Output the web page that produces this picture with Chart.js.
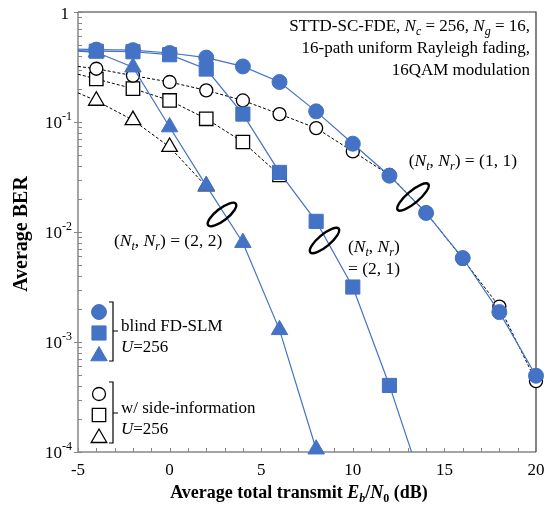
<!DOCTYPE html>
<html>
<head>
<meta charset="utf-8">
<script src="https://cdn.jsdelivr.net/npm/chart.js@4/dist/chart.umd.min.js"></script>
<style>
  html, body { margin: 0; padding: 0; background: #fff; }
  #chart { display: block; }
</style>
</head>
<body>
<canvas id="chart" width="554" height="506"></canvas>
<script>
/** Data (BER, x = average total transmit Eb/N0 in dB) **/

// blind FD-SLM, U=256 (filled blue markers, solid lines)
const blindCircleX = [-5, -4, -2, 0, 2, 4, 6, 8, 10, 12, 14, 16, 18, 20];
const blindCircleBer = [0.46, 0.455, 0.45, 0.424, 0.385, 0.32, 0.231, 0.125, 0.0635, 0.0325, 0.0149, 0.0058, 0.00187, 0.000494];
const blindSquareX = [-5, -4, -2, 0, 2, 4, 6, 8, 10, 12, 14];
const blindSquareBer = [0.445, 0.44, 0.435, 0.409, 0.303, 0.118, 0.0348, 0.0125, 0.00316, 0.000403, 0.00004];
const blindTriangleX = [-5, -4, -2, 0, 2, 4, 6, 8];
const blindTriangleBer = [0.44, 0.43, 0.315, 0.09, 0.0264, 0.008, 0.00129, 0.000106];

// w/ side-information, U=256 (open markers, dashed lines)
const sideCircleX = [-5, -4, -2, 0, 2, 4, 6, 8, 10, 12, 14, 16, 18, 20];
const sideCircleBer = [0.32, 0.305, 0.264, 0.231, 0.194, 0.157, 0.118, 0.088, 0.054, 0.033, 0.015, 0.0057, 0.0021, 0.00044];
const sideSquareX = [-5, -4, -2, 0, 2, 4, 6];
const sideSquareBer = [0.272, 0.246, 0.201, 0.157, 0.107, 0.0658, 0.033];
const sideTriangleX = [-5, -4, -2, 0, 2];
const sideTriangleBer = [0.184, 0.156, 0.104, 0.0593, 0.026];

// axis ticks
const xTickLabels = [-5, 0, 5, 10, 15, 20];
const yDecades = [0, -1, -2, -3, -4];

/** Styles **/
const blue = "#4472C4";
const SERIF = '"Liberation Serif", "Times New Roman", serif';

function pts(xs, ys) {
    return xs.map((x, i) => ({ x: x, y: ys[i] }));
}

// points sitting on the left edge only carry the line, no marker
function radiusOf(r) {
    return c => (c.raw && c.raw.x <= -5) ? 0 : r;
}

function blindSet(label, xs, ys, style, r, clip) {
    return {
        label: label, data: pts(xs, ys),
        borderColor: blue, borderWidth: 1.2,
        pointStyle: style, pointRadius: radiusOf(r),
        pointBackgroundColor: blue, pointBorderColor: blue, pointBorderWidth: 1,
        clip: clip
    };
}

function sideSet(label, xs, ys, style, r) {
    return {
        label: label, data: pts(xs, ys),
        borderColor: "#000", borderWidth: 1, borderDash: [3, 2],
        pointStyle: style, pointRadius: radiusOf(r),
        pointBackgroundColor: "#fff", pointBorderColor: "#000", pointBorderWidth: 1.3,
        clip: 12
    };
}

/** Text helpers **/
function fontFor(flags, size) {
    const small = flags.includes('s') || flags.includes('p');
    return (flags.includes('i') ? 'italic ' : '') + (flags.includes('b') ? 'bold ' : '') +
        (small ? Math.round(size * 0.68) : size) + 'px ' + SERIF;
}

function drawRich(ctx, parts, x, y, align, size) {
    let total = 0;
    parts.forEach(p => { ctx.font = fontFor(p[1], size); total += ctx.measureText(p[0]).width; });
    let cx = align === 'right' ? x - total : (align === 'center' ? x - total / 2 : x);
    ctx.textAlign = 'left';
    ctx.textBaseline = 'alphabetic';
    ctx.fillStyle = '#000';
    parts.forEach(p => {
        ctx.font = fontFor(p[1], size);
        const dy = p[1].includes('s') ? size * 0.22 : (p[1].includes('p') ? -size * 0.4 : 0);
        ctx.fillText(p[0], cx, y + dy);
        cx += ctx.measureText(p[0]).width;
    });
}

function drawMarker(ctx, style, x, y, r, fill, stroke, lw) {
    ctx.beginPath();
    if (style === 'circle') {
        ctx.arc(x, y, r, 0, Math.PI * 2);
    } else if (style === 'rect') {
        const s = Math.SQRT1_2 * r;
        ctx.rect(x - s, y - s, 2 * s, 2 * s);
    } else {
        const h = r * Math.sqrt(3) / 2;
        ctx.moveTo(x, y - r);
        ctx.lineTo(x + h, y + r / 2);
        ctx.lineTo(x - h, y + r / 2);
        ctx.closePath();
    }
    ctx.fillStyle = fill;
    ctx.fill();
    ctx.lineWidth = lw;
    ctx.strokeStyle = stroke;
    ctx.stroke();
}

function drawLoop(ctx, cx, cy, rx, ry, deg) {
    ctx.beginPath();
    ctx.ellipse(cx, cy, rx, ry, deg * Math.PI / 180, 0, Math.PI * 2);
    ctx.lineWidth = 2.4;
    ctx.strokeStyle = '#000';
    ctx.stroke();
}

function bracket(ctx, x, y0, y1, ym) {
    ctx.beginPath();
    ctx.moveTo(x - 4, y0); ctx.lineTo(x, y0); ctx.lineTo(x, y1); ctx.lineTo(x - 4, y1);
    ctx.moveTo(x, ym); ctx.lineTo(x + 5, ym);
    ctx.lineWidth = 1.2;
    ctx.strokeStyle = '#000';
    ctx.stroke();
}

/** Frame, inner ticks and decade labels **/
const framePlugin = {
    id: 'frame',
    beforeDatasetsDraw(chart) {
        const ctx = chart.ctx, a = chart.chartArea;
        const xs = chart.scales.x, ys = chart.scales.y;
        ctx.save();
        ctx.lineWidth = 1.5;
        ctx.strokeStyle = '#868686';
        ctx.beginPath();
        ctx.moveTo(a.left, a.top); ctx.lineTo(a.left, a.bottom); ctx.lineTo(a.right, a.bottom);
        ctx.stroke();
        ctx.lineWidth = 1.2;
        ctx.strokeStyle = '#333';
        ctx.beginPath();
        ctx.moveTo(a.left, a.top); ctx.lineTo(a.right, a.top); ctx.lineTo(a.right, a.bottom);
        ctx.stroke();

        // x ticks every 1 dB, pointing in
        ctx.lineWidth = 1;
        ctx.strokeStyle = '#868686';
        ctx.beginPath();
        for (let v = xs.min; v <= xs.max; v++) {
            const px = Math.round(xs.getPixelForValue(v)) + 0.5;
            ctx.moveTo(px, a.bottom); ctx.lineTo(px, a.bottom - 4);
        }
        // y ticks on log scale
        yDecades.forEach(n => {
            for (let k = 1; k <= 9; k++) {
                const v = k * Math.pow(10, n);
                if (v > ys.max * 1.0001) break;
                const py = Math.round(ys.getPixelForValue(v)) + 0.5;
                ctx.moveTo(k === 1 ? a.left - 4 : a.left, py); ctx.lineTo(a.left + 4, py);
            }
        });
        ctx.stroke();

        // decade labels 1, 10^-1 ...
        yDecades.forEach(n => {
            const py = ys.getPixelForValue(Math.pow(10, n));
            if (n === 0) {
                drawRich(ctx, [['1', '']], a.left - 9, py + 6.5, 'right', 17);
            } else {
                ctx.font = fontFor('p', 17);
                const sup = '-' + (-n);
                const w = ctx.measureText(sup).width;
                drawRich(ctx, [['10', '']], a.left - 6 - w, py + 5.5, 'right', 17);
                ctx.font = fontFor('p', 17);
                ctx.fillText(sup, a.left - 6 - w, py - 2);
            }
        });
        ctx.restore();
    },
    afterDraw(chart) {
        const ctx = chart.ctx;
        ctx.save();

        // condition box text
        drawRich(ctx, [['STTD-SC-FDE, ', ''], ['N', 'i'], ['c', 'is'], [' = 256, ', ''], ['N', 'i'], ['g', 'is'], [' = 16,', '']], 530, 31, 'right', 17);
        drawRich(ctx, [['16-path uniform Rayleigh fading,', '']], 530, 53, 'right', 17);
        drawRich(ctx, [['16QAM modulation', '']], 530, 75, 'right', 17);

        // curve group labels and loops
        const ntnr = [['(', ''], ['N', 'i'], ['t', 'is'], [', ', ''], ['N', 'i'], ['r', 'is'], [')', '']];
        drawRich(ctx, ntnr.concat([[' = (1, 1)', '']]), 517, 166, 'right', 17.5);
        drawRich(ctx, ntnr.concat([[' = (2, 2)', '']]), 114, 246, 'left', 17.5);
        drawRich(ctx, ntnr, 348, 252, 'left', 17.5);
        drawRich(ctx, [['= (2, 1)', '']], 348, 274, 'left', 17.5);
        drawLoop(ctx, 413, 197, 20, 6, -40);
        drawLoop(ctx, 222, 214.5, 17.5, 6, -38);
        drawLoop(ctx, 324.5, 240.5, 18.5, 6, -40);

        // legend
        drawMarker(ctx, 'circle', 99, 312, 7.5, blue, blue, 1);
        drawMarker(ctx, 'rect', 99, 333, 10, blue, blue, 1);
        drawMarker(ctx, 'triangle', 99, 356, 9.5, blue, blue, 1);
        drawMarker(ctx, 'circle', 99, 394, 6.5, '#fff', '#000', 1.3);
        drawMarker(ctx, 'rect', 99, 415, 9.5, '#fff', '#000', 1.3);
        drawMarker(ctx, 'triangle', 99, 438, 9, '#fff', '#000', 1.3);
        bracket(ctx, 113, 302, 361, 331);
        bracket(ctx, 113, 382, 443, 413);
        drawRich(ctx, [['blind FD-SLM', '']], 121, 331, 'left', 17);
        drawRich(ctx, [['U', 'i'], ['=256', '']], 121, 352, 'left', 17);
        drawRich(ctx, [['w/ side-information', '']], 121, 413, 'left', 17);
        drawRich(ctx, [['U', 'i'], ['=256', '']], 121, 434, 'left', 17);

        // axis titles
        drawRich(ctx, [['Average total transmit ', 'b'], ['E', 'bi'], ['b', 'bis'], ['/', 'b'], ['N', 'bi'], ['0', 'bs'], [' (dB)', 'b']], 299, 498, 'center', 18);
        ctx.translate(27, 234);
        ctx.rotate(-Math.PI / 2);
        drawRich(ctx, [['Average BER', 'b']], 0, 0, 'center', 20);
        ctx.restore();
    }
};

/** Chart **/
new Chart(document.getElementById('chart'), {
    type: 'line',
    data: {
        datasets: [
            blindSet('blind circle', blindCircleX, blindCircleBer, 'circle', 7.5, 12),
            blindSet('blind square', blindSquareX, blindSquareBer, 'rect', 10, undefined),
            blindSet('blind triangle', blindTriangleX, blindTriangleBer, 'triangle', 9.5, 12),
            sideSet('side circle', sideCircleX, sideCircleBer, 'circle', 6.5),
            sideSet('side square', sideSquareX, sideSquareBer, 'rect', 9.5),
            sideSet('side triangle', sideTriangleX, sideTriangleBer, 'triangle', 9)
        ]
    },
    options: {
        responsive: false,
        animation: false,
        devicePixelRatio: 1,
        layout: { padding: { left: 0, right: 18, top: 12, bottom: 0 } },
        plugins: { legend: { display: false }, tooltip: { enabled: false } },
        scales: {
            x: {
                type: 'linear', min: -5, max: 20,
                border: { display: false },
                grid: { display: false, drawTicks: false },
                afterBuildTicks: s => { s.ticks = xTickLabels.map(v => ({ value: v })); },
                ticks: { color: '#000', padding: 8, maxRotation: 0, autoSkip: false,
                    font: { family: SERIF, size: 17 } },
                afterFit: s => { s.height = 54; }
            },
            y: {
                type: 'logarithmic', min: 0.0001, max: 1,
                border: { display: false },
                grid: { display: false, drawTicks: false },
                ticks: { display: false },
                afterFit: s => { s.width = 78; }
            }
        }
    },
    plugins: [framePlugin]
});
</script>
</body>
</html>
